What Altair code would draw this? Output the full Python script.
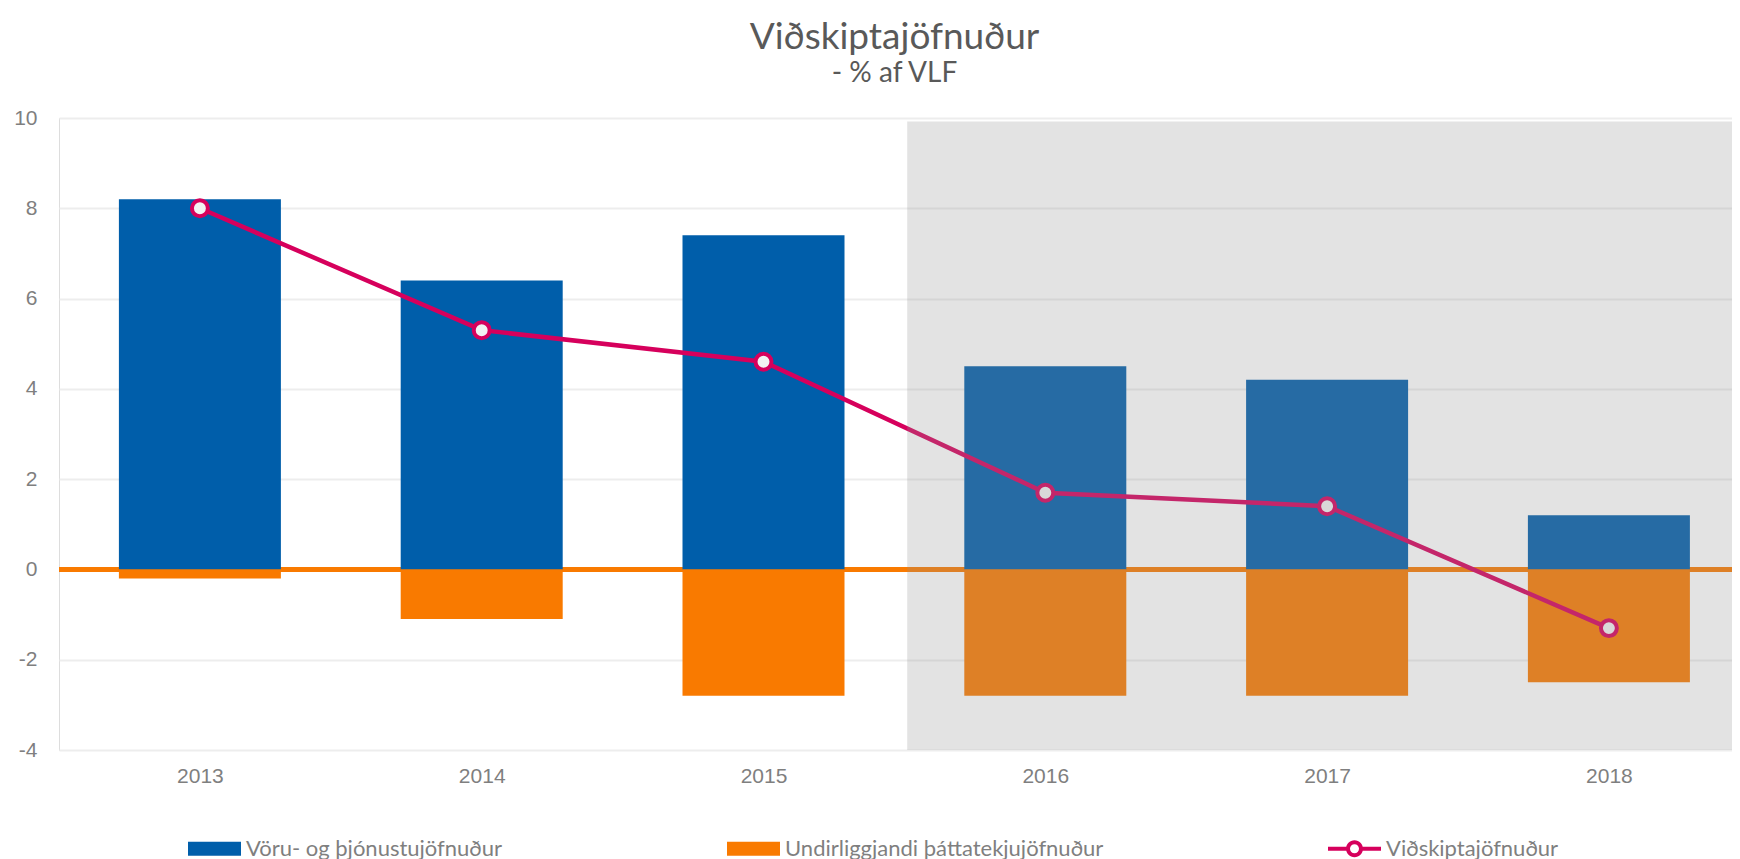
import altair as alt
import pandas as pd

# ---- data ----
years = [2013, 2014, 2015, 2016, 2017, 2018]
goods_services = [8.2, 6.4, 7.4, 4.5, 4.2, 1.2]          # Vöru- og þjónustujöfnuður
primary_income = [-0.2, -1.1, -2.8, -2.8, -2.8, -2.5]    # Undirliggjandi þáttatekjujöfnuður
current_account = [8.0, 5.3, 4.6, 1.7, 1.4, -1.3]        # Viðskiptajöfnuður
series_names = ["Vöru- og þjónustujöfnuður",
                "Undirliggjandi þáttatekjujöfnuður",
                "Viðskiptajöfnuður"]
y_ticks = [-4, -2, 0, 2, 4, 6, 8, 10]
forecast_start = 2015.51   # shaded (forecast) period starts here
shade_top = 9.92

# ---- styles ----
BLUE = "#005EAA"
ORANGE = "#F97A00"
MAGENTA = "#D6005C"
GREY_TXT = "#7F7F7F"
TITLE_TXT = "#595959"

W, H = 1673, 632
PX_PER_YEAR = 281.8
X_MIN = 2012.5
X_MAX = X_MIN + W / PX_PER_YEAR

df = pd.DataFrame({"year": years, "gs": goods_services,
                   "pi": primary_income, "ca": current_account})
one_row = pd.DataFrame({"k": [0]})
legend_df = pd.DataFrame({"series": series_names})

xscale = alt.Scale(domain=[X_MIN, X_MAX], nice=False, zero=False, padding=0)
yscale = alt.Scale(domain=[-4, 10], nice=False, zero=False)

x_axis = alt.Axis(values=years, labelExpr="datum.value", title=None, grid=False,
                  ticks=False, domain=False, labelFont="Liberation Sans",
                  labelFontSize=21, labelColor=GREY_TXT, labelPadding=15)
y_axis = alt.Axis(values=y_ticks, labelExpr="datum.value", title=None, grid=True,
                  gridColor="#EDEDED", gridWidth=2, ticks=False, domain=False,
                  labelFont="Liberation Sans", labelFontSize=21,
                  labelColor=GREY_TXT, labelPadding=22)

X = alt.X("year:Q", scale=xscale, axis=x_axis)

base = alt.Chart(df)

zero_line = alt.Chart(one_row).mark_rule(color=ORANGE, strokeWidth=5).encode(
    y=alt.Y(datum=0, scale=yscale, axis=y_axis))

bars_gs = base.mark_bar(color=BLUE, size=162).encode(
    x=X, y=alt.Y("gs:Q", scale=yscale, axis=y_axis), y2=alt.Y2(datum=0))
bars_pi = base.mark_bar(color=ORANGE, size=162).encode(
    x=X, y=alt.Y("pi:Q", scale=yscale, axis=y_axis), y2=alt.Y2(datum=0))

line = base.mark_line(color=MAGENTA, strokeWidth=4.5).encode(
    x=X, y=alt.Y("ca:Q", scale=yscale, axis=y_axis))
markers = base.mark_point(shape="circle", filled=False, fill="#F2F2F2",
                          fillOpacity=1, stroke=MAGENTA, strokeWidth=4,
                          size=254, opacity=1).encode(
    x=X, y=alt.Y("ca:Q", scale=yscale, axis=y_axis))

shade = alt.Chart(one_row).mark_rect(color="#939393", opacity=0.26).encode(
    x=alt.X(datum=forecast_start, scale=xscale, axis=x_axis),
    x2=alt.value(W),
    y=alt.Y(datum=-4, scale=yscale, axis=y_axis),
    y2=alt.Y2(datum=shade_top))

# legend symbols
rect_path = "M-1,-0.26L1,-0.26L1,0.26L-1,0.26Z"
line_path = ("M-1,-0.075L-0.3,-0.075L-0.3,0.075L-1,0.075Z"
             "M0.3,-0.075L1,-0.075L1,0.075L0.3,0.075Z"
             "M0.32,0A0.32,0.32 0 1,1 -0.32,0A0.32,0.32 0 1,1 0.32,0Z"
             "M0.17,0A0.17,0.17 0 1,0 -0.17,0A0.17,0.17 0 1,0 0.17,0Z")

leg = dict(title=None, orient="none", legendX=129, legendY=704,
           direction="horizontal", columnPadding=224, labelOffset=5,
           labelFont="Lato", labelFontSize=22, labelColor=GREY_TXT,
           labelLimit=1000, symbolSize=2809, symbolStrokeWidth=0,
           symbolOpacity=1)

legend_layer = alt.Chart(legend_df).mark_point(
    filled=True, opacity=1, size=2809, strokeWidth=0).encode(
    color=alt.Color("series:N", scale=alt.Scale(domain=series_names,
                                                range=[BLUE, ORANGE, MAGENTA]),
                    legend=alt.Legend(**leg)),
    shape=alt.Shape("series:N", scale=alt.Scale(domain=series_names,
                                                range=[rect_path, rect_path, line_path]),
                    legend=alt.Legend(**leg)),
).transform_filter("false")

chart = alt.layer(zero_line, bars_gs, bars_pi, line, markers, shade, legend_layer).properties(
    width=W, height=H,
    padding={"left": 51, "top": 110, "right": 0, "bottom": 110},
    autosize=alt.AutoSizeParams(type="none"),
    title=alt.TitleParams(text="Viðskiptajöfnuður", subtitle="- % af VLF",
                          anchor="middle", font="Lato", fontSize=37,
                          fontWeight="normal", color=TITLE_TXT,
                          subtitleFont="Lato", subtitleFontSize=28,
                          subtitleColor=TITLE_TXT, subtitlePadding=3,
                          offset=18, dx=-1),
).configure_view(stroke=None).configure(background="white")

chart.save("out.html", embed_options={"renderer": "svg", "actions": False})
